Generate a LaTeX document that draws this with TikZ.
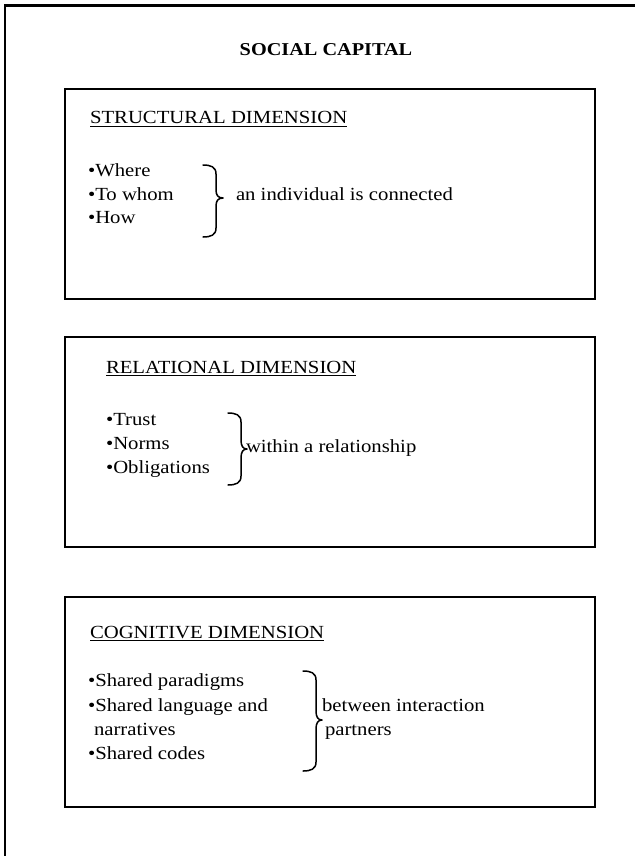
\documentclass[tikz,border=0pt]{standalone}
\usepackage{fontspec}
\setmainfont{Liberation Serif}[FakeStretch=1.12]
\begin{document}
\begin{tikzpicture}[x=1pt,y=-1pt,
  every node/.style={inner sep=0pt, outer sep=0pt},
  body/.style={anchor=base west, font=\fontsize{18.5}{23.5}\selectfont},
  titletext/.style={anchor=base, font=\fontsize{18.1}{21}\selectfont\bfseries},
  dimbox/.style={draw, line width=1.8pt, minimum width=530pt, minimum height=210pt, anchor=north west},
  bracepath/.style={line width=1.5pt, line cap=round, line join=round},
  underlined/.style={line width=1.1pt},
  frameline/.style={line width=2.4pt}]
\useasboundingbox (0,0) rectangle (635,856);

% outer frame
\draw[frameline] (5,856) -- (5,5.5) -- (635,5.5);

% title
\node[titletext] (title) at (326,56) {SOCIAL CAPITAL};

% three dimension boxes
\node[dimbox] (structbox) at (65,89) {};
\node[dimbox] (relbox) at (65,337) {};
\node[dimbox] (cogbox) at (65,597) {};

% structural dimension
\node[body] (sh) at (90,124) {STRUCTURAL DIMENSION};
\draw[underlined] ([yshift=-2.8pt]sh.base west) -- ([yshift=-2.8pt]sh.base east);
\node[body] (s1) at (88,176) {•Where};
\node[body] (s2) at (88,200) {•To whom};
\node[body] (s3) at (88,223) {•How};
\node[body] (st) at (236,200) {an individual is connected};
\draw[bracepath] (203,165) .. controls (211,165) and (216,167) .. (216,174) -- (216,190)
  .. controls (216,195) and (218,198) .. (223,198)
  .. controls (218,198) and (216,201) .. (216,206) -- (216,228)
  .. controls (216,235) and (211,237) .. (203,237);

% relational dimension
\node[body] (rh) at (106,373) {RELATIONAL DIMENSION};
\draw[underlined] ([yshift=-2.8pt]rh.base west) -- ([yshift=-2.8pt]rh.base east);
\node[body] (r1) at (106,425) {•Trust};
\node[body] (r2) at (106,449) {•Norms};
\node[body] (r3) at (106,473) {•Obligations};
\node[body] (rt) at (246,452) {within a relationship};
\draw[bracepath] (228,413) .. controls (236,413) and (241,415) .. (241,422) -- (241,440)
  .. controls (241,446) and (243,449) .. (247,449)
  .. controls (243,449) and (241,452) .. (241,458) -- (241,476)
  .. controls (241,483) and (236,485) .. (228,485);

% cognitive dimension
\node[body] (ch) at (90,638) {COGNITIVE DIMENSION};
\draw[underlined] ([yshift=-2.8pt]ch.base west) -- ([yshift=-2.8pt]ch.base east);
\node[body] (c1) at (88,686) {•Shared paradigms};
\node[body] (c2) at (88,711) {•Shared language and};
\node[body] (c3) at (94,735) {narratives};
\node[body] (c4) at (88,759) {•Shared codes};
\node[body] (ct1) at (322,711) {between interaction};
\node[body] (ct2) at (325,735) {partners};
\draw[bracepath] (303,671) .. controls (311,671) and (316,673) .. (316,680) -- (316,711)
  .. controls (316,717) and (318,720) .. (322,720)
  .. controls (318,720) and (316,723) .. (316,729) -- (316,762)
  .. controls (316,769) and (311,771) .. (303,771);
\end{tikzpicture}
\end{document}
